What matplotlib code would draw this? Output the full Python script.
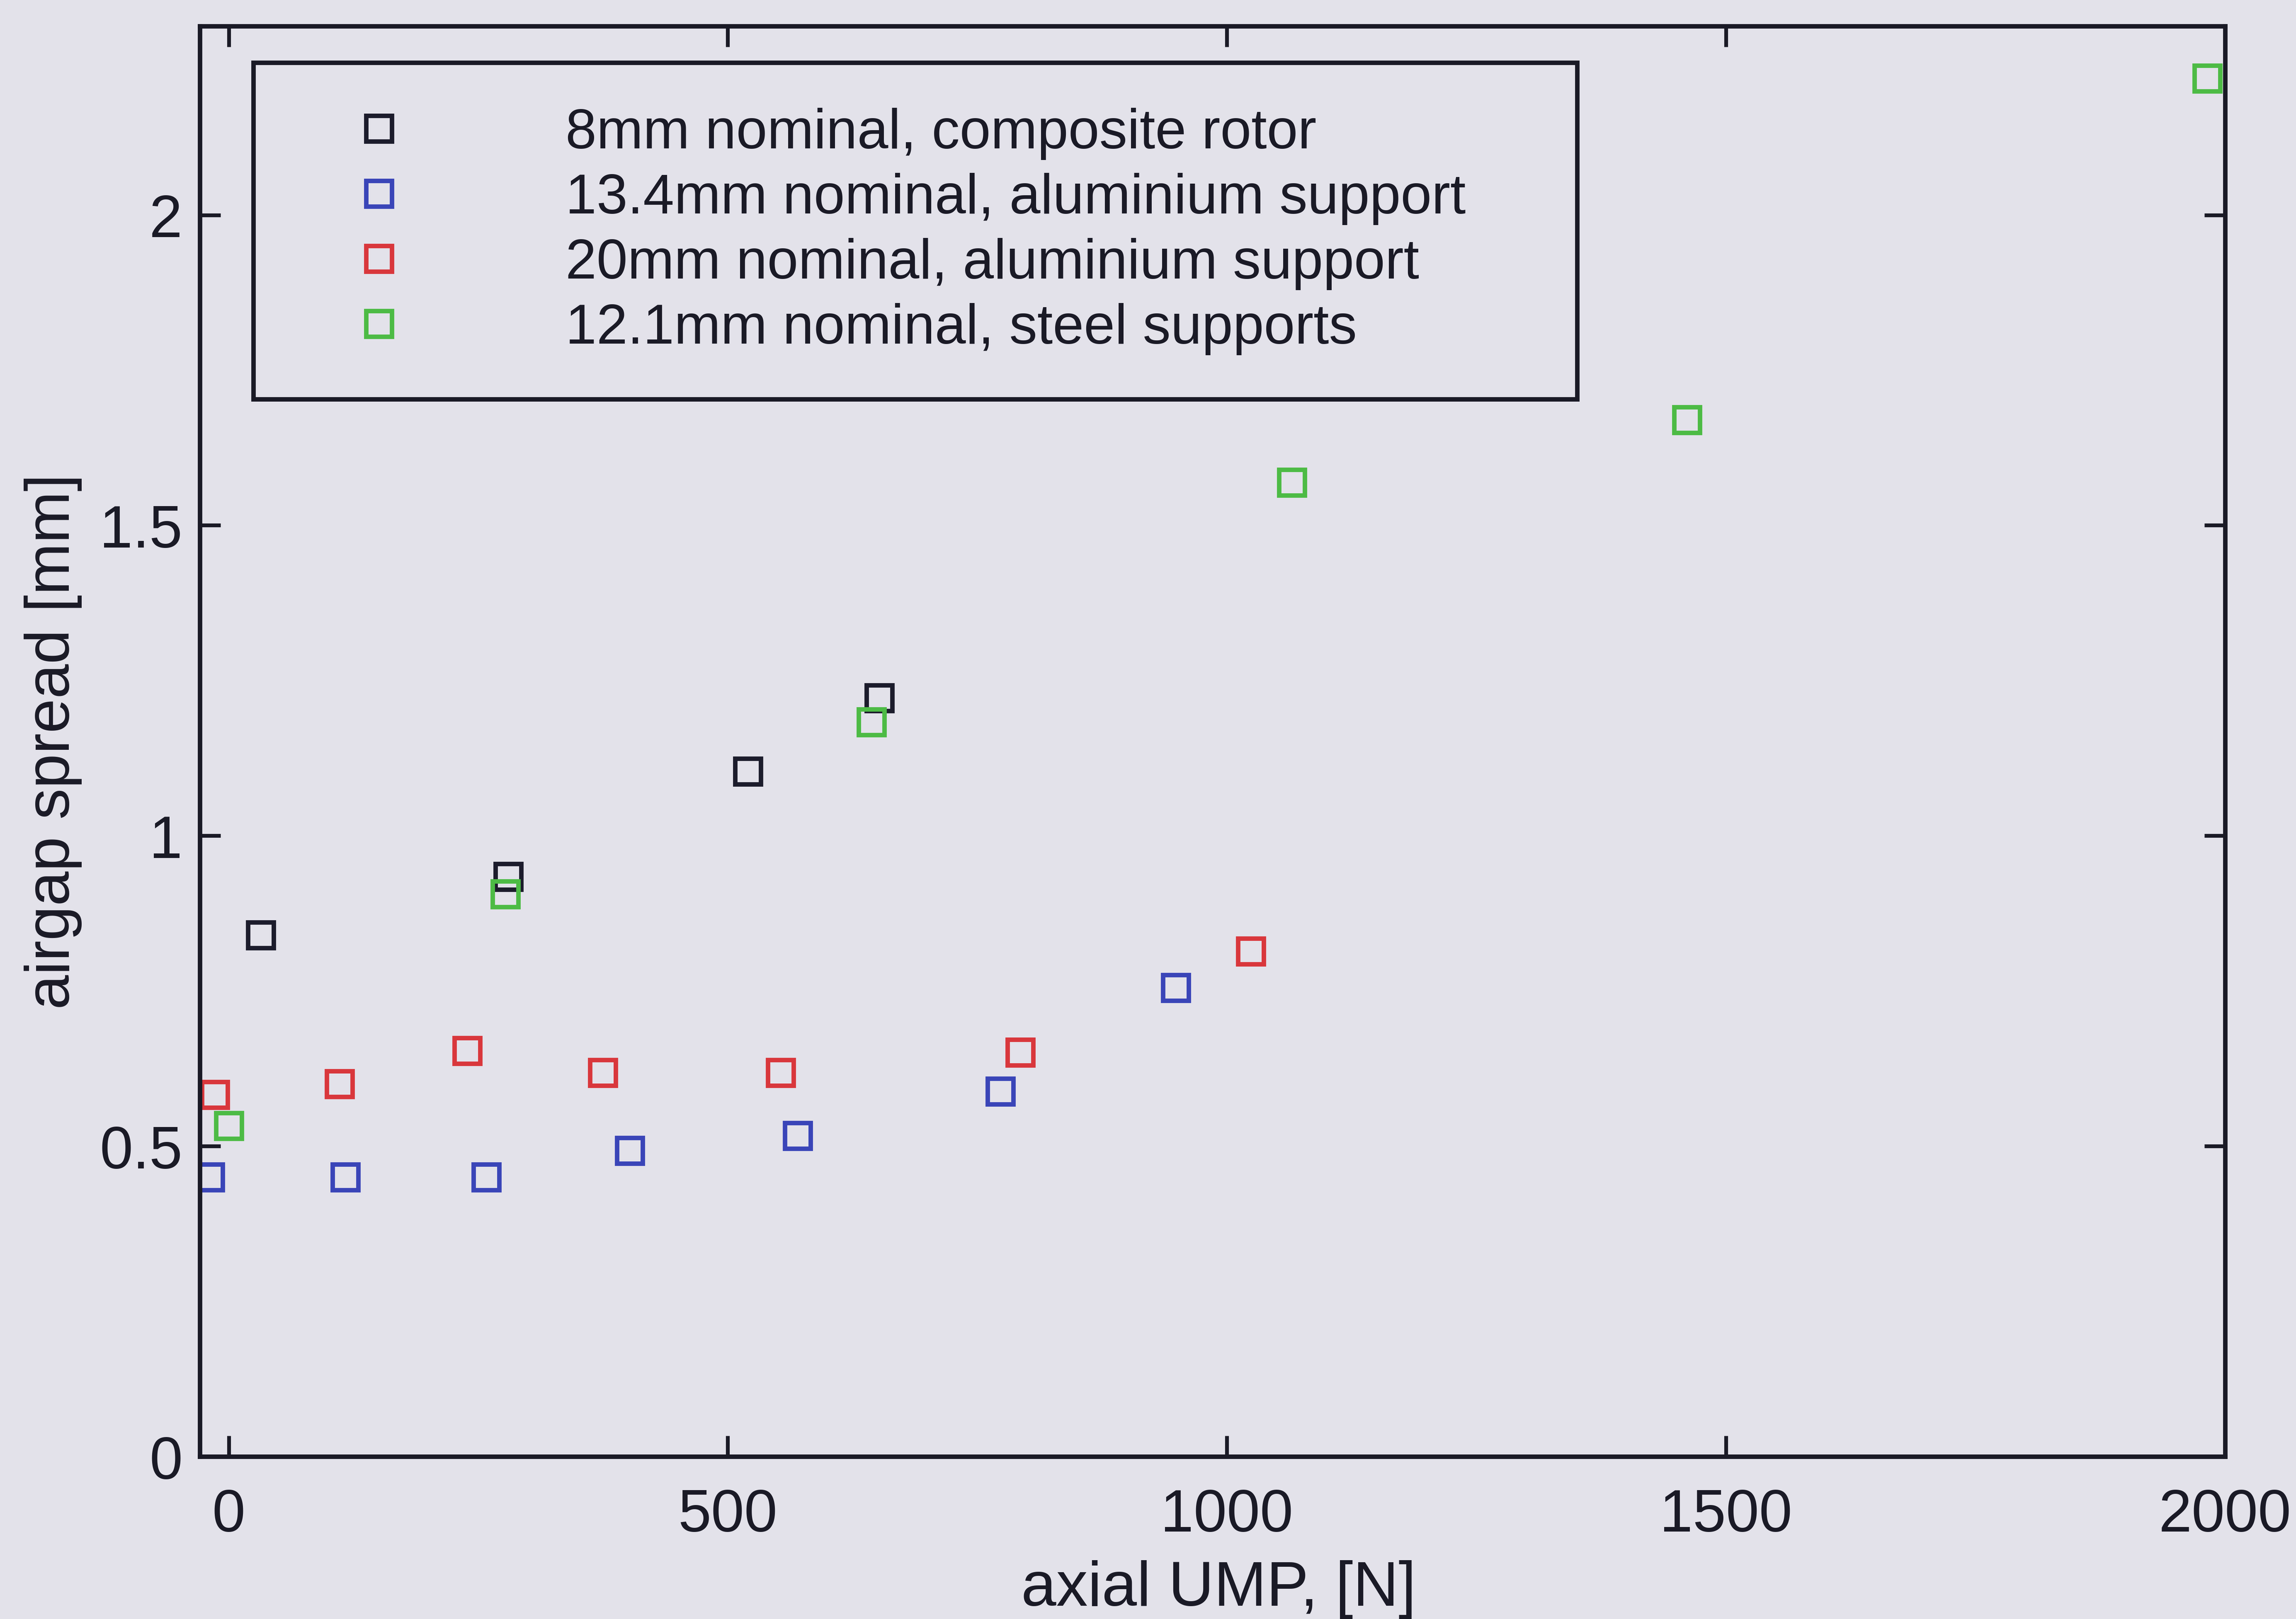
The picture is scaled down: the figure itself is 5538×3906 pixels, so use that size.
import matplotlib.pyplot as plt

# axial UMP [N] vs airgap spread [mm] for each test rig
x_composite = [32, 280, 520, 652]
y_composite = [0.840, 0.934, 1.104, 1.222]

x_alu134 = [-19, 117, 258, 402, 570, 773, 949]
y_alu134 = [0.450, 0.450, 0.450, 0.493, 0.517, 0.588, 0.755]

x_alu20 = [-14, 111, 239, 375, 553, 793, 1024]
y_alu20 = [0.583, 0.600, 0.654, 0.618, 0.618, 0.651, 0.814]

x_steel = [0, 277, 644, 1065, 1461, 1982]
y_steel = [0.533, 0.906, 1.183, 1.569, 1.670, 2.220]

labels = ["8mm nominal, composite rotor",
          "13.4mm nominal, aluminium support",
          "20mm nominal, aluminium support",
          "12.1mm nominal, steel supports"]

xticks = [0, 500, 1000, 1500, 2000]
yticks = [0, 0.5, 1, 1.5, 2]
ytick_labels = ["0", "0.5", "1", "1.5", "2"]

bg = "#e3e2ea"
ink = "#1a1a26"

plt.rcParams['font.family'] = ['Liberation Sans', 'DejaVu Sans']

fig = plt.figure(figsize=(18.46, 13.023), dpi=300, facecolor=bg)
ax = fig.add_axes([0.087, 0.1003, 0.8821, 0.8833])
ax.set_facecolor(bg)

series = [(x_composite, y_composite, "#1c1c2c"),
          (x_alu134, y_alu134, "#3a45b8"),
          (x_alu20, y_alu20, "#d9373c"),
          (x_steel, y_steel, "#4dbb45")]
for (xs, ys, c), lab in zip(series, labels):
    ax.plot(xs, ys, linestyle='none', marker='s', markersize=15,
            markerfacecolor='none', markeredgecolor=c, markeredgewidth=2.6,
            label=lab)

ax.set_xlim(-29, 2000)
ax.set_ylim(0, 2.304)
ax.set_xticks(xticks)
ax.set_xticklabels([str(t) for t in xticks])
ax.set_yticks(yticks)
ax.set_yticklabels(ytick_labels)

for s in ax.spines.values():
    s.set_linewidth(2.6)
    s.set_color(ink)
ax.tick_params(direction='in', length=12, width=2.2, color=ink,
               top=True, right=True, labelsize=34.5, labelcolor=ink)
ax.tick_params(axis='x', pad=18)
ax.tick_params(axis='y', pad=10)

ax.set_xlabel("axial UMP, [N]", fontsize=36.5, color=ink)
ax.xaxis.set_label_coords(0.503, -0.072)
ax.set_ylabel("airgap spread [mm]", fontsize=36, color=ink)
ax.yaxis.set_label_coords(-0.058, 0.5)

leg = ax.legend(loc='upper left', bbox_to_anchor=(0.0264, 0.7473, 0.6536, 0.2272),
                mode='expand', borderaxespad=0, fontsize=32.3, frameon=True,
                fancybox=False, framealpha=1, facecolor=bg, edgecolor=ink,
                borderpad=0.8, handlelength=2.9, handletextpad=1.9,
                labelspacing=0.23, markerscale=1.0)
leg.get_frame().set_linewidth(2.6)
for t in leg.get_texts():
    t.set_color(ink)

fig.savefig("out.png", dpi=300, facecolor=bg)
